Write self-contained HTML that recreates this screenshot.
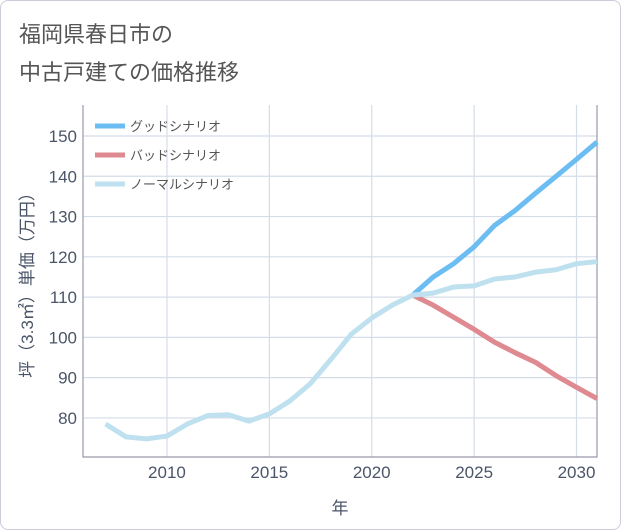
<!DOCTYPE html>
<html><head><meta charset="utf-8"><style>
body{margin:0;background:#fff;}
#card{position:absolute;left:0;top:0;width:619px;height:528px;border:1px solid #ccd;border-radius:8px;background:#fff;}
.t{position:absolute;left:18px;font:22px "Liberation Sans","Noto Sans CJK JP",sans-serif;color:#555;}
svg{position:absolute;left:0;top:0;}
text{font-family:"Liberation Sans","Noto Sans CJK JP",sans-serif;}
</style></head><body>
<div id="card">
<div class="t" style="top:16px">福岡県春日市の</div>
<div class="t" style="top:54px">中古戸建ての価格推移</div>
</div>
<svg id="chart" width="621" height="530"></svg>
<script>
const years=[2007,2008,2009,2010,2011,2012,2013,2014,2015,2016,2017,2018,2019,2020,2021,2022,2023,2024,2025,2026,2027,2028,2029,2030,2031];
const normal=[78.5,75.3,74.8,75.5,78.5,80.6,80.8,79.2,81.0,84.2,88.5,94.5,100.8,104.8,108,110.5,111,112.5,112.8,114.5,115,116.2,116.8,118.3,118.8];
const goodYears=[2022,2023,2024,2025,2026,2027,2028,2029,2030,2031];
const good=[110.5,115,118.3,122.5,127.8,131.5,135.8,140,144.2,148.5];
const bad=[110.5,108,105,102,98.8,96.2,93.8,90.5,87.6,84.8];
const xTicks=[2010,2015,2020,2025,2030];
const yTicks=[80,90,100,110,120,130,140,150];
const L=83,R=597,T=105,B=457,x0=2005.9,x1=2031,y0=70.3,y1=157.7;
const X=v=>L+(v-x0)/(x1-x0)*(R-L);
const Y=v=>B-(v-y0)/(y1-y0)*(B-T);
const svg=document.getElementById('chart');const NS='http://www.w3.org/2000/svg';
function mk(t,a){const e=document.createElementNS(NS,t);for(const k in a)e.setAttribute(k,a[k]);svg.appendChild(e);return e;}
for(const v of yTicks){
 const g=mk('line',{x1:L,x2:R,y1:Y(v),y2:Y(v),stroke:'#d5dde8','stroke-width':1.2});
 
 
 const t=mk('text',{x:L-6,y:Y(v)+6,'text-anchor':'end','font-size':17,fill:'#4a5568'});t.textContent=v;
 
 
}
for(const v of xTicks){
 const g=mk('line',{x1:X(v),x2:X(v),y1:T,y2:B,stroke:'#d5dde8','stroke-width':1.2});
 
 
 const t=mk('text',{x:X(v),y:B+21,'text-anchor':'middle','font-size':17,fill:'#4a5568'});t.textContent=v;
 
 
}
const ax=mk('path',{d:`M${L},${T}V${B}H${R}V${T}`,fill:'none',stroke:'#99a','stroke-width':1.2});


function line(xs,ys,c,n){const p=mk('polyline',{points:xs.map((x,i)=>X(x)+','+Y(ys[i])).join(' '),fill:'none',stroke:c,'stroke-width':5,'stroke-linejoin':'round'});
 
 }
line(goodYears,bad,'#de8a90','bad-scenario-line');
line(goodYears,good,'#6bbdf2','good-scenario-line');
line(years,normal,'#bfe1ef','normal-scenario-line');
const leg=[['グッドシナリオ','#6bbdf2'],['バッドシナリオ','#de8a90'],['ノーマルシナリオ','#bfe1ef']];
leg.forEach((l,i)=>{const y=126+i*29;
 const s=mk('line',{x1:95,x2:125,y1:y,y2:y,stroke:l[1],'stroke-width':5});
 
 
 const t=mk('text',{x:130,y:y+5,'font-size':13,fill:'#555'});t.textContent=l[0];
 
 
});
const yt=mk('text',{x:0,y:0,'font-size':17,fill:'#4a5568','text-anchor':'middle',transform:`translate(33,${(T+B)/2}) rotate(-90)`});
yt.textContent='坪（3.3㎡）単価（万円）';


const xt=mk('text',{x:(L+R)/2,y:514,'font-size':17,fill:'#4a5568','text-anchor':'middle'});
xt.textContent='年';


</script>
</body></html>
